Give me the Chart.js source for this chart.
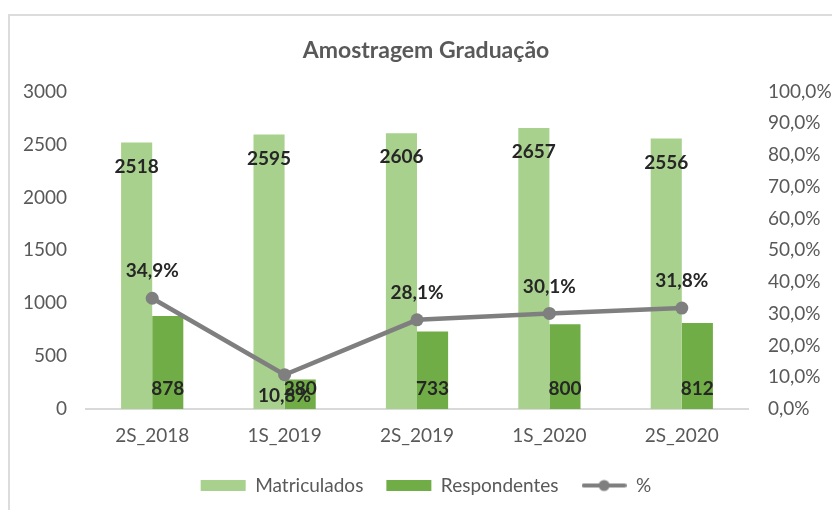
<!DOCTYPE html>
<html>
<head>
<meta charset="utf-8">
<script src="https://cdn.jsdelivr.net/npm/chart.js@4"></script>
<style>
  html, body { margin: 0; padding: 0; background: #fff; }
  #wrap { position: relative; width: 832px; height: 510px; overflow: hidden; }
  #frame { position: absolute; left: 8px; top: 14px; width: 900px; height: 600px; border: 2px solid #dcdcdc; box-sizing: border-box; }
  canvas { position: absolute; left: 0; top: 0; }
</style>
</head>
<body>
<div id="wrap">
  <div id="frame"></div>
  <canvas id="chart" width="832" height="510"></canvas>
</div>
<script>
// ── Data ──
const periodos = ['2S_2018', '1S_2019', '2S_2019', '1S_2020', '2S_2020'];
const matriculados = [2518, 2595, 2606, 2657, 2556];
const respondentes = [878, 280, 733, 800, 812];
const percentual = [34.9, 10.8, 28.1, 30.1, 31.8];

const COLORS = {
  matric: '#a9d18e',
  resp: '#70ad47',
  pct: '#7f7f7f',
  text: '#595959',
  label: '#262626',
  axis: '#d9d9d9'
};

const FONT = 'Lato, "Open Sans", sans-serif';

// % label sits above the point, except where Excel put it below
const pctBelow = [false, true, false, false, false];

function fmtPct(v) {
  return v.toFixed(1).replace('.', ',') + '%';
}

// legend icon for the % line: line with a dot
function lineIcon() {
  const c = document.createElement('canvas');
  c.width = 45; c.height = 14;
  const g = c.getContext('2d');
  g.strokeStyle = COLORS.pct; g.lineWidth = 4; g.lineCap = 'round';
  g.beginPath(); g.moveTo(2, 7); g.lineTo(43, 7); g.stroke();
  g.fillStyle = COLORS.pct;
  g.beginPath(); g.arc(22.5, 7, 5.5, 0, Math.PI * 2); g.fill();
  return c;
}

// ── Data labels ──
const valueLabels = {
  id: 'valueLabels',
  afterDatasetsDraw(chart) {
    const ctx = chart.ctx;
    ctx.save();
    ctx.font = 'bold 19px ' + FONT;
    ctx.fillStyle = COLORS.label;
    ctx.textAlign = 'center';
    ctx.textBaseline = 'middle';
    chart.data.datasets.forEach((ds, i) => {
      const meta = chart.getDatasetMeta(i);
      meta.data.forEach((el, j) => {
        const v = ds.data[j];
        if (ds.type === 'line') {
          ctx.fillText(fmtPct(v), el.x, pctBelow[j] ? el.y + 21 : el.y - 27);
        } else if (i === 0) {
          ctx.fillText(String(v), el.x, el.y + 24);
        } else {
          ctx.fillText(String(v), el.x, el.base - 20);
        }
      });
    });
    ctx.restore();
  }
};

const icon = lineIcon();
const tickFont = { family: FONT, size: 19 };

new Chart(document.getElementById('chart'), {
  type: 'bar',
  data: {
    labels: periodos,
    datasets: [
      { label: 'Matriculados', data: matriculados, backgroundColor: COLORS.matric, yAxisID: 'y', order: 2, barPercentage: 1, categoryPercentage: 0.47 },
      { label: 'Respondentes', data: respondentes, backgroundColor: COLORS.resp, yAxisID: 'y', order: 2, barPercentage: 1, categoryPercentage: 0.47 },
      { type: 'line', label: '%', data: percentual, yAxisID: 'y1', order: 1, borderColor: COLORS.pct, backgroundColor: COLORS.pct, borderWidth: 4.5, pointRadius: 6.5, pointBackgroundColor: COLORS.pct, pointBorderWidth: 0, tension: 0 }
    ]
  },
  options: {
    responsive: false,
    animation: false,
    layout: { padding: { left: 20, right: 0, top: 0, bottom: 5 } },
    plugins: {
      title: { display: true, text: 'Amostragem Graduação', color: COLORS.text, font: { family: FONT, size: 23, weight: 'bold' }, padding: { top: 37, bottom: 27 } },
      legend: {
        position: 'bottom',
        labels: {
          color: COLORS.text, font: { family: FONT, size: 19 }, boxWidth: 45, boxHeight: 11, padding: 23,
          usePointStyle: true, pointStyleWidth: 45,
          sort: (a, b) => a.datasetIndex - b.datasetIndex,
          generateLabels(chart) {
            const items = Chart.defaults.plugins.legend.labels.generateLabels(chart);
            return items.map(it => {
              it.pointStyle = it.datasetIndex === 2 ? icon : 'rect';
              it.lineWidth = 0;
              return it;
            });
          }
        }
      },
      tooltip: { enabled: false }
    },
    scales: {
      x: {
        grid: { display: false, drawTicks: false },
        border: { color: COLORS.axis, width: 2 },
        ticks: { color: COLORS.text, font: tickFont, padding: 15 },
        afterFit(s) { s.height = 44; }
      },
      y: {
        position: 'left', min: 0, max: 3000,
        grid: { display: false, drawTicks: false }, border: { display: false },
        ticks: { stepSize: 500, color: COLORS.text, font: tickFont, padding: 19, callback: v => String(v) },
        afterFit(s) { s.width = 66; }
      },
      y1: {
        position: 'right', min: 0, max: 100,
        grid: { display: false, drawTicks: false }, border: { display: false },
        ticks: { stepSize: 10, color: COLORS.text, font: tickFont, padding: 20, callback: v => fmtPct(v) },
        afterFit(s) { s.width = 84; }
      }
    }
  },
  plugins: [valueLabels]
});
</script>
</body>
</html>
